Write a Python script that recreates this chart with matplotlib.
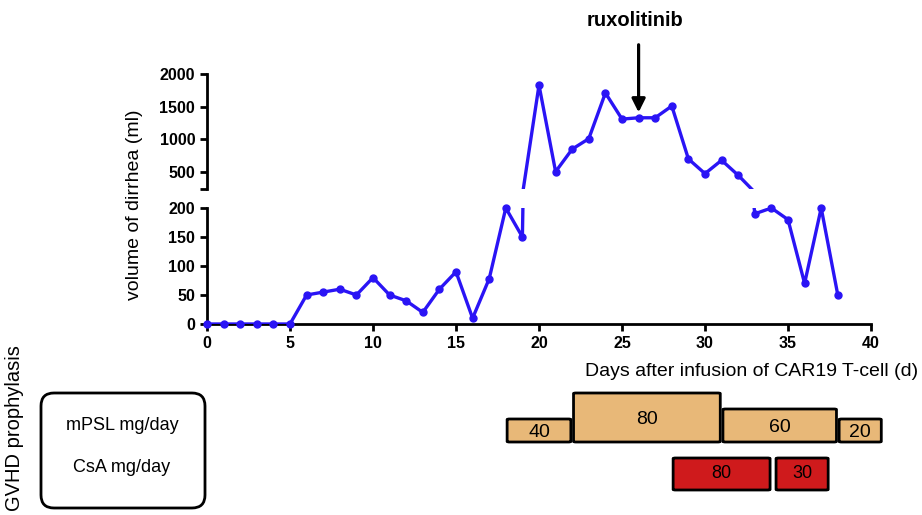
import matplotlib
matplotlib.use("Agg")
import matplotlib.pyplot as plt
from matplotlib.patches import FancyBboxPatch

plt.rcParams['font.family'] = ['Liberation Sans', 'DejaVu Sans']

# diarrhea volume by day after CAR19 T-cell infusion
days = list(range(0, 39))
volume = [0, 0, 0, 0, 0, 0, 50, 55, 60, 50, 80, 50, 40, 20, 60, 90, 10, 78, 200, 150,
          1830, 505, 850, 1010, 1710, 1310, 1330, 1330, 1510, 700, 475, 680, 450,
          190, 200, 180, 70, 200, 50]
low_ticks = [0, 50, 100, 150, 200]
high_ticks = [500, 1000, 1500, 2000]
x_ticks = [0, 5, 10, 15, 20, 25, 30, 35, 40]
rux_day = 26

# GVHD prophylaxis
mpsl_start = [18, 22, 31, 38]
mpsl_end = [22, 31, 38, 40.7]
mpsl_dose = [40, 80, 60, 20]
csa_start = [28, 34.2]
csa_end = [34, 37.5]
csa_dose = [80, 30]

W, H = 922, 515
fig = plt.figure(figsize=(W / 100, H / 100), dpi=100)

def box(x0, y0, x1, y1):
    # pixel box (top-left origin) -> figure fraction
    return [x0 / W, 1 - y1 / H, (x1 - x0) / W, (y1 - y0) / H]

blue = '#2A14F5'
lo_min, lo_max = 0, 200
hi_min, hi_max = 245, 2000

ax_lo = fig.add_axes(box(207, 208, 871, 324))
ax_hi = fig.add_axes(box(207, 74, 871, 172 + (500 - hi_min) * 98 / 1500))

for ax, ymin, ymax in [(ax_lo, lo_min, lo_max), (ax_hi, hi_min, hi_max)]:
    ax.plot(days, volume, color=blue, lw=2.4, zorder=3)
    d = [x for x, v in zip(days, volume) if ymin <= v <= ymax]
    v = [v for v in volume if ymin <= v <= ymax]
    ax.plot(d, v, 'o', color=blue, ms=5, clip_on=False, zorder=4)
    ax.set_xlim(0, 40)
    ax.set_ylim(ymin, ymax)
    for s in ['top', 'right']:
        ax.spines[s].set_visible(False)
    ax.spines['left'].set_linewidth(2)
    ax.spines['bottom'].set_linewidth(2)
    ax.tick_params(width=2, length=5, labelsize=11.5)

ax_lo.set_yticks(low_ticks)
ax_lo.set_yticklabels([str(t) for t in low_ticks], fontweight='bold')
ax_lo.set_xticks(x_ticks)
ax_lo.set_xticklabels([str(t) for t in x_ticks], fontweight='bold')

ax_hi.spines['bottom'].set_visible(False)
ax_hi.set_xticks([])
ax_hi.set_yticks([hi_min] + high_ticks)
ax_hi.set_yticklabels([''] + [str(t) for t in high_ticks], fontweight='bold')

fig.text(134 / W, 1 - 205 / H, 'volume of dirrhea (ml)', rotation=90,
         ha='center', va='center', fontsize=14)
fig.text(918 / W, 1 - 372 / H, 'Days after infusion of CAR19 T-cell (d)',
         ha='right', va='center', fontsize=14)

# ruxolitinib arrow
rux_y = volume[days.index(rux_day)]
ax_hi.annotate('', xy=(rux_day, rux_y + 40), xytext=(rux_day, 2490),
               arrowprops=dict(arrowstyle='-|>', color='black', lw=2.3,
                               mutation_scale=20),
               annotation_clip=False)
fig.text(635 / W, 1 - 20 / H, 'ruxolitinib', ha='center', va='center',
         fontsize=14.5, fontweight='bold')

# prophylaxis boxes, x in days, y in pixels
ax_g = fig.add_axes(box(207, 385, 871, 515))
ax_g.set_xlim(0, 40)
ax_g.set_ylim(515, 385)
ax_g.axis('off')

tan = '#E8B878'
red = '#CF1A1C'
mpsl_h = {40: 25, 80: 51, 60: 35, 20: 25}
for x0, x1, dose in zip(mpsl_start, mpsl_end, mpsl_dose):
    h = mpsl_h[dose]
    p = FancyBboxPatch((x0 + 0.08, 443 - h + 1), x1 - x0 - 0.16, h - 2,
                       boxstyle='round,pad=0,rounding_size=0.15',
                       mutation_aspect=4, facecolor=tan, edgecolor='black',
                       lw=2, clip_on=False)
    ax_g.add_patch(p)
    ax_g.text((x0 + x1) / 2, 443 - h / 2 + 2, str(dose), ha='center',
              va='center', fontsize=14)
for x0, x1, dose in zip(csa_start, csa_end, csa_dose):
    p = FancyBboxPatch((x0 + 0.08, 458), x1 - x0 - 0.16, 32,
                       boxstyle='round,pad=0,rounding_size=0.15',
                       mutation_aspect=4, facecolor=red, edgecolor='black',
                       lw=2, clip_on=False)
    ax_g.add_patch(p)
    ax_g.text((x0 + x1) / 2, 474, str(dose), ha='center', va='center',
              fontsize=13)

# legend panel on the left
ax_f = fig.add_axes([0, 0, 1, 1], zorder=-1)
ax_f.set_xlim(0, W)
ax_f.set_ylim(H, 0)
ax_f.axis('off')
ax_f.add_patch(FancyBboxPatch((41, 393), 164, 115,
                              boxstyle='round,pad=0,rounding_size=13',
                              facecolor='white', edgecolor='black', lw=2))
ax_f.text(122, 425, 'mPSL mg/day', ha='center', va='center', fontsize=13)
ax_f.text(122, 467, 'CsA mg/day', ha='center', va='center', fontsize=13)
ax_f.text(15, 428, 'GVHD prophylasis', rotation=90, ha='center', va='center',
          fontsize=14.5)

fig.savefig('out.png', dpi=100)
